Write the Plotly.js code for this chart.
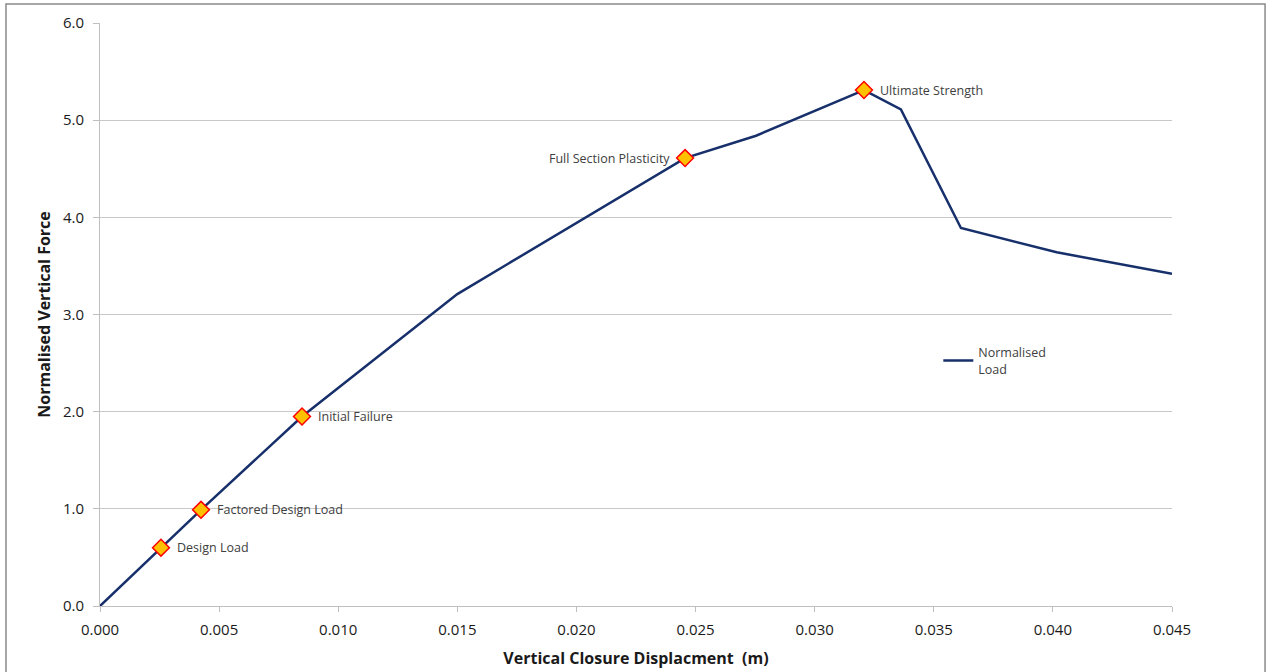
<!DOCTYPE html>
<html>
<head>
<meta charset="utf-8">
<script src="https://cdn.plot.ly/plotly-3.0.1.min.js"></script>
<style>html,body{margin:0;padding:0;background:#fff;}#chart{width:1273px;height:672px;}</style>
</head>
<body>
<div id="chart"></div>
<script>
// Curve: normalised load vs vertical closure displacement
const displacement = [0, 0.00256, 0.00424, 0.00848, 0.0150, 0.02456, 0.02754, 0.03207, 0.03362, 0.03614, 0.04016, 0.045];
const normForce    = [0, 0.60,    0.99,    1.95,    3.21,   4.61,    4.84,    5.31,    5.11,    3.89,    3.64,    3.42];

// Key points
const keyLabels = ["Design Load", "Factored Design Load", "Initial Failure", "Full Section Plasticity", "Ultimate Strength"];
const keyX = [0.00256, 0.00424, 0.00848, 0.02456, 0.03207];
const keyY = [0.60, 0.99, 1.95, 4.61, 5.31];
const keySide = ["right", "right", "right", "left", "right"];

const xTicks = [0, 0.005, 0.010, 0.015, 0.020, 0.025, 0.030, 0.035, 0.040, 0.045];
const xTickText = ["0.000","0.005","0.010","0.015","0.020","0.025","0.030","0.035","0.040","0.045"];
const yTicks = [0,1,2,3,4,5,6];
const yTickText = ["0.0","1.0","2.0","3.0","4.0","5.0","6.0"];

const FONT = "Open Sans, Liberation Sans, sans-serif";

const traces = [
  {
    x: displacement, y: normForce, type: "scatter", mode: "lines",
    name: "Normalised<br>Load",
    line: {color: "#17306b", width: 2.5},
    hoverinfo: "skip"
  },
  {
    x: keyX, y: keyY, type: "scatter", mode: "markers",
    showlegend: false,
    marker: {symbol: "diamond", size: 13, color: "#FFC000", line: {color: "#FF0000", width: 1.5}},
    hoverinfo: "skip"
  }
];

const annotations = keyLabels.map((t, i) => ({
  x: keyX[i], y: keyY[i], xref: "x", yref: "y",
  text: t, showarrow: false,
  xanchor: keySide[i] === "right" ? "left" : "right",
  yanchor: "middle",
  xshift: keySide[i] === "right" ? 14 : -13,
  font: {family: FONT, size: 12.5, color: "#404040"}
}));

const layout = {
  width: 1273, height: 672,
  margin: {l: 100, r: 101, t: 23, b: 66},
  paper_bgcolor: "#ffffff", plot_bgcolor: "#ffffff",
  font: {family: FONT, color: "#404040"},
  showlegend: true,
  legend: {
    x: 0.782, y: 0.46, xanchor: "left", yanchor: "top",
    bgcolor: "rgba(0,0,0,0)",
    font: {family: FONT, size: 12.5, color: "#404040"}
  },
  xaxis: {
    range: [0, 0.045], tickvals: xTicks, ticktext: xTickText,
    showgrid: false, zeroline: false,
    showline: true, linecolor: "#bfbfbf", linewidth: 1,
    ticks: "outside", ticklen: 5, tickcolor: "#bfbfbf",
    ticklabelstandoff: 5,
    tickfont: {family: FONT, size: 15, color: "#1a1a1a"},
    title: {text: "<b>Vertical Closure Displacment  (m)</b>", font: {family: FONT, size: 16, color: "#1a1a1a"}, standoff: 14}
  },
  yaxis: {
    range: [0, 6], tickvals: yTicks, ticktext: yTickText,
    showgrid: true, gridcolor: "#c8c8c8", gridwidth: 1,
    zeroline: false,
    showline: true, linecolor: "#bfbfbf", linewidth: 1,
    ticks: "outside", ticklen: 6, tickcolor: "#bfbfbf",
    ticklabelstandoff: 6,
    tickfont: {family: FONT, size: 15, color: "#1a1a1a"},
    title: {text: "<b>Normalised Vertical Force</b>", font: {family: FONT, size: 16, color: "#1a1a1a"}, standoff: 8}
  },
  shapes: [{
    type: "rect", xref: "paper", yref: "paper",
    x0: -0.0877, x1: 1.0868, y0: -0.3, y1: 1.0326,
    line: {color: "#8a8a8a", width: 1.5}, fillcolor: "rgba(0,0,0,0)", layer: "below"
  }],
  annotations: annotations
};

Plotly.newPlot("chart", traces, layout, {displayModeBar: false, staticPlot: true});
</script>
</body>
</html>
